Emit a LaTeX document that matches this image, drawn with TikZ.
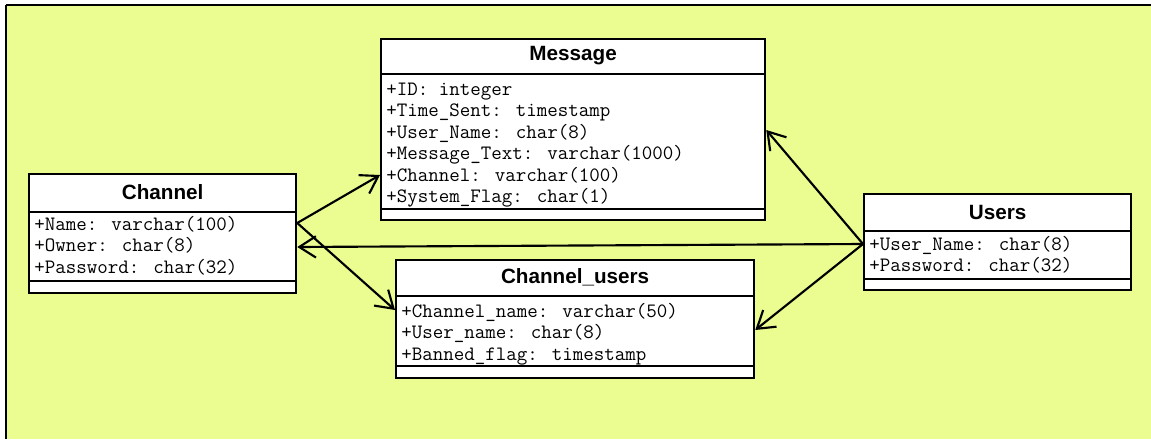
\documentclass[tikz,border=0pt]{standalone}
\usepackage{fontspec}
\setmainfont{Liberation Sans}
\newfontfamily\classfont{Liberation Sans}
\usetikzlibrary{arrows.meta,calc,positioning}
\definecolor{canvasyellow}{RGB}{235,253,145}

\tikzset{
  classbox/.style={draw=black, line width=1.7pt, fill=white, inner sep=0pt, anchor=north west},
  classname/.style={font=\classfont\bfseries\fontsize{15.5}{18}\selectfont, inner sep=0pt},
  attr/.style={font=\ttfamily\fontsize{15.3}{18}\selectfont, anchor=base west, inner sep=0pt},
  divider/.style={line width=1.7pt},
  assoc/.style={line width=1.6pt, -{Straight Barb[length=12.5pt,width=16pt,line width=1.6pt]}},
}

\begin{document}
\begin{tikzpicture}[x=0.75pt,y=-0.75pt]
\useasboundingbox (0,0) rectangle (1151,439);
% canvas
\fill[white] (0,0) rectangle (1151,439);
\fill[canvasyellow] (6,5) rectangle (1151,439);
\draw[line width=1.5pt] (6,5) -- (1151,5);
\draw[line width=2.2pt] (6,5) -- (6,439);

% Message
\node[classbox, minimum width=288pt, minimum height=135.75pt] (msg) at (380,38) {};
\draw[divider] ($(msg.north west)+(0,36)$) -- ($(msg.north east)+(0,36)$);
\draw[divider] ($(msg.north west)+(0,171)$) -- ($(msg.north east)+(0,171)$);
\node[classname] (msg-name) at ($(msg.north)+(0,18)$) {Message};
\foreach \t [count=\i] in {{+ID: integer},{+Time\_Sent: timestamp},{+User\_Name: char(8)},
  {+Message\_Text: varchar(1000)},{+Channel: varchar(100)},{+System\_Flag: char(1)}}
  \node[attr] (msg-\i) at ($(msg.north west)+(6,35.5+21.5*\i)$) {\t};

% Channel
\node[classbox, minimum width=200.25pt, minimum height=89.25pt] (chan) at (28,173) {};
\draw[divider] ($(chan.north west)+(0,39)$) -- ($(chan.north east)+(0,39)$);
\draw[divider] ($(chan.north west)+(0,108)$) -- ($(chan.north east)+(0,108)$);
\node[classname] (chan-name) at ($(chan.north)+(0,19.5)$) {Channel};
\foreach \t [count=\i] in {{+Name: varchar(100)},{+Owner: char(8)},{+Password: char(32)}}
  \node[attr] (chan-\i) at ($(chan.north west)+(6,35.5+21.5*\i)$) {\t};

% Channel_users
\node[classbox, minimum width=268.5pt, minimum height=88.5pt] (cu) at (395,259) {};
\draw[divider] ($(cu.north west)+(0,37)$) -- ($(cu.north east)+(0,37)$);
\draw[divider] ($(cu.north west)+(0,107)$) -- ($(cu.north east)+(0,107)$);
\node[classname] (cu-name) at ($(cu.north)+(0,18.5)$) {Channel\_users};
\foreach \t [count=\i] in {{+Channel\_name: varchar(50)},{+User\_name: char(8)},{+Banned\_flag: timestamp}}
  \node[attr] (cu-\i) at ($(cu.north west)+(6,36.5+21.5*\i)$) {\t};

% Users
\node[classbox, minimum width=200.25pt, minimum height=72pt] (users) at (863,193) {};
\draw[divider] ($(users.north west)+(0,38)$) -- ($(users.north east)+(0,38)$);
\draw[divider] ($(users.north west)+(0,86)$) -- ($(users.north east)+(0,86)$);
\node[classname] (users-name) at ($(users.north)+(0,19)$) {Users};
\foreach \t [count=\i] in {{+User\_Name: char(8)},{+Password: char(32)}}
  \node[attr] (users-\i) at ($(users.north west)+(6,35.5+21.5*\i)$) {\t};

% association ends
\coordinate (chan-out) at ($(chan.north east)+(0,50)$);
\coordinate (chan-in) at ($(chan.north east)+(0,74)$);
\coordinate (users-out) at ($(users.north west)+(0,51)$);
\coordinate (msg-left) at ($(msg.north west)+(0,137)$);
\coordinate (msg-right) at ($(msg.north east)+(0,92)$);
\coordinate (cu-left) at ($(cu.north west)+(0,51)$);
\coordinate (cu-right) at ($(cu.north east)+(0,71)$);

\draw[assoc] (chan-out) -- (msg-left);
\draw[assoc] (chan-out) -- (cu-left);
\draw[assoc] (users-out) -- (chan-in);
\draw[assoc] (users-out) -- (msg-right);
\draw[assoc] (users-out) -- (cu-right);

\end{tikzpicture}
\end{document}
